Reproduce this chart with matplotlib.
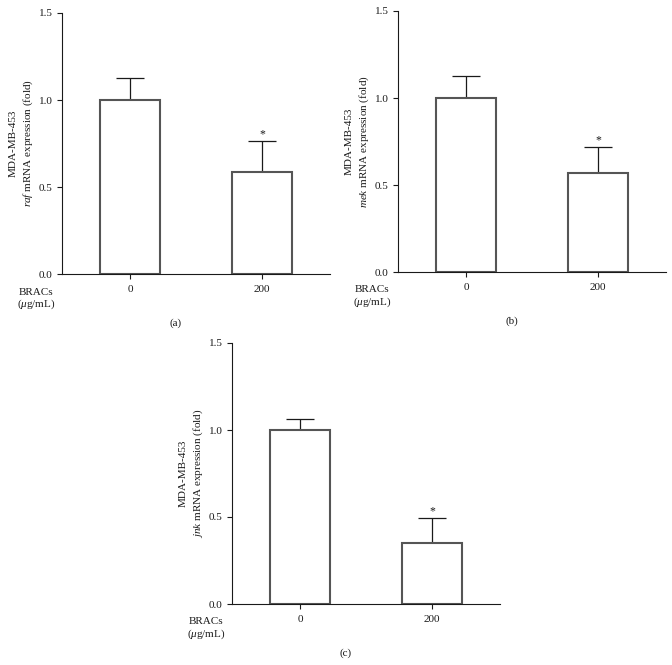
import matplotlib
matplotlib.use("Agg")
import matplotlib.pyplot as plt

plt.rcParams['font.family'] = ['Liberation Serif', 'DejaVu Serif']
plt.rcParams['mathtext.fontset'] = 'custom'
plt.rcParams['mathtext.rm'] = 'Liberation Serif'
plt.rcParams['mathtext.it'] = 'Liberation Serif:italic'

categories = ["0", "200"]
genes = ["raf", "mek", "jnk"]
panel_tags = ["(a)", "(b)", "(c)"]
means = {"raf": [1.0, 0.586], "mek": [1.0, 0.567], "jnk": [1.0, 0.350]}
errors = {"raf": [0.125, 0.180], "mek": [0.125, 0.153], "jnk": [0.066, 0.142]}
y_ticks = [0.0, 0.5, 1.0, 1.5]
y_tick_labels = ["0.0", "0.5", "1.0", "1.5"]

W, H = 672, 665
fig = plt.figure(figsize=(W / 100, H / 100), dpi=100)
fig.patch.set_facecolor('white')

# pixel layout: (left, right, top, bottom) of axes
layouts = [(62, 330, 13, 274), (398, 666, 11, 272), (232, 500, 343, 604)]
C = '#1a1a1a'
FS = 8

for gene, tag, (l, r, t, b) in zip(genes, panel_tags, layouts):
    ax = fig.add_axes([l / W, 1 - b / H, (r - l) / W, (b - t) / H])
    xs = [0, 1]
    ax.bar(xs, means[gene], width=0.45, color='white', edgecolor='#555555',
           linewidth=1.5, zorder=2)
    ax.errorbar(xs, means[gene], yerr=[[0, 0], errors[gene]], fmt='none',
                ecolor=C, elinewidth=0.9, capsize=10, capthick=0.9, zorder=1)
    for x, m, e in zip(xs, means[gene], errors[gene]):
        if x == 1:
            ax.text(x, m + e + 0.005, '*', ha='center', va='bottom',
                    fontsize=8.5, color=C)
    ax.set_xlim(-0.515, 1.515)
    ax.set_ylim(0, 1.5)
    ax.set_yticks(y_ticks)
    ax.set_yticklabels(y_tick_labels)
    ax.set_xticks(xs)
    ax.set_xticklabels(categories)
    for s in ['top', 'right']:
        ax.spines[s].set_visible(False)
    for s in ['left', 'bottom']:
        ax.spines[s].set_color(C)
        ax.spines[s].set_linewidth(0.8)
    ax.tick_params(axis='both', colors=C, labelsize=FS, width=0.8,
                   length=3.8, direction='out', pad=3)
    ax.tick_params(axis='x', pad=4)
    ymid = 1 - (t + b) / 2 / H
    fig.text((l - 49) / W, ymid, 'MDA-MB-453', rotation=90, ha='center',
             va='center', fontsize=FS, color=C)
    fig.text((l - 34) / W, ymid, '$\\mathit{' + gene + '}$ mRNA expression (fold)',
             rotation=90, ha='center', va='center', fontsize=FS, color=C)
    fig.text((l - 26) / W, 1 - (b + 18) / H, 'BRACs', ha='center', va='center',
             fontsize=FS, color=C)
    fig.text((l - 26) / W, 1 - (b + 30) / H, '($\\mathit{\\mu}$g/mL)', ha='center',
             va='center', fontsize=FS, color=C)
    fig.text((l + 114) / W, 1 - (b + 49) / H, tag, ha='center', va='center',
             fontsize=FS, color=C)

fig.savefig('out.png', dpi=100, facecolor='white')
